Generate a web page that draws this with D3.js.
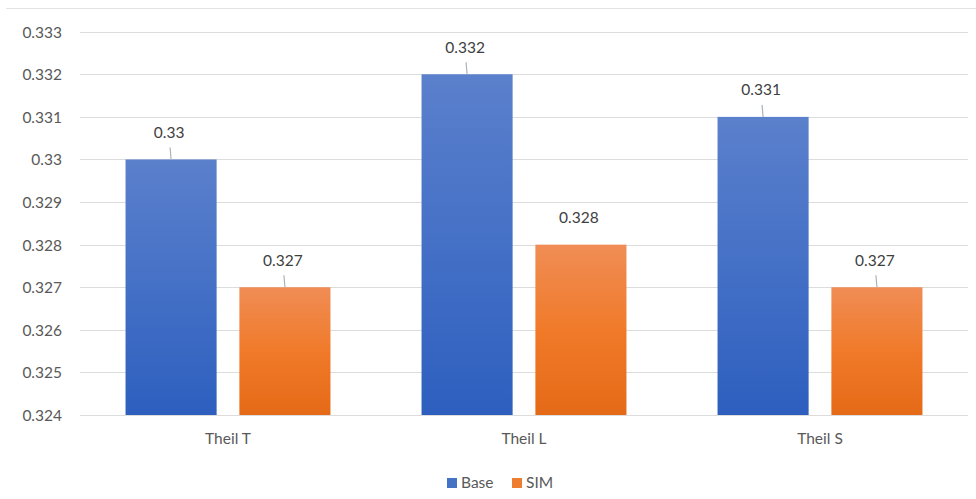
<!DOCTYPE html>
<html>
<head>
<meta charset="utf-8">
<script src="https://cdn.jsdelivr.net/npm/d3@7"></script>
<style>
  html, body { margin: 0; padding: 0; background: #fff; }
  svg { display: block; font-family: Lato, "Open Sans", sans-serif; }
</style>
</head>
<body>
<svg id="chart" width="976" height="499"></svg>
<script>
const categories = ["Theil T", "Theil L", "Theil S"];
const seriesNames = ["Base", "SIM"];
const baseValues = [0.330, 0.332, 0.331];
const simValues = [0.327, 0.328, 0.327];
const baseLabels = ["0.33", "0.332", "0.331"];
const simLabels = ["0.327", "0.328", "0.327"];
const yTicks = [0.324, 0.325, 0.326, 0.327, 0.328, 0.329, 0.330, 0.331, 0.332, 0.333];
const yTickLabels = ["0.324", "0.325", "0.326", "0.327", "0.328", "0.329", "0.33", "0.331", "0.332", "0.333"];

const svg = d3.select("#chart");
const W = 976, H = 499;
const plot = { left: 80, right: 968, top: 31.7, bottom: 415 };

// top border
svg.append("line").attr("x1", 6).attr("x2", W).attr("y1", 8.5).attr("y2", 8.5)
  .attr("stroke", "#e3e3e3").attr("stroke-width", 1);

const y = d3.scaleLinear().domain([0.324, 0.333]).range([plot.bottom, plot.top]);
const x0 = d3.scaleBand().domain(categories).range([plot.left, plot.right]).paddingInner(0).paddingOuter(0);
const x1 = d3.scaleBand().domain(seriesNames).range([0, x0.bandwidth()]).paddingInner(0.2).paddingOuter(0.4);

// gradients
const defs = svg.append("defs");
const grads = {
  Base: ["#5b80cc", "#4470c6", "#2e5fbf"],
  SIM: ["#f08d55", "#f07a2a", "#e56a17"]
};
Object.entries(grads).forEach(([k, c]) => {
  const g = defs.append("linearGradient").attr("id", "g" + k)
    .attr("x1", 0).attr("y1", 0).attr("x2", 0).attr("y2", 1);
  g.append("stop").attr("offset", "0%").attr("stop-color", c[0]);
  g.append("stop").attr("offset", "50%").attr("stop-color", c[1]);
  g.append("stop").attr("offset", "100%").attr("stop-color", c[2]);
});
const legendColors = { Base: "#4472c4", SIM: "#ed7d31" };

// gridlines
svg.append("g").selectAll("line").data(yTicks).join("line")
  .attr("x1", plot.left).attr("x2", plot.right)
  .attr("y1", d => Math.round(y(d)) + 0.5).attr("y2", d => Math.round(y(d)) + 0.5)
  .attr("stroke", "#dcdcdc").attr("stroke-width", 1.2);

// y axis labels
const yAxis = d3.axisLeft(y).tickValues(yTicks).tickSize(0).tickPadding(0)
  .tickFormat((d, i) => yTickLabels[i]);
const ya = svg.append("g").attr("transform", `translate(62,0)`).call(yAxis);
ya.select(".domain").remove();
ya.selectAll("text").attr("fill", "#595959").attr("font-size", 15.5)
  .attr("font-family", "Lato, 'Open Sans', sans-serif").attr("dy", "0.35em");

// x axis labels
const xa = svg.append("g").attr("transform", `translate(0,${plot.bottom})`)
  .call(d3.axisBottom(x0).tickSize(0).tickPadding(0));
xa.select(".domain").remove();
xa.selectAll("text").attr("fill", "#595959").attr("font-size", 15.5)
  .attr("font-family", "Lato, 'Open Sans', sans-serif").attr("dy", "29px");

// bars
const rows = categories.map((c, i) => ({
  cat: c,
  items: [
    { s: "Base", v: baseValues[i], lab: baseLabels[i] },
    { s: "SIM", v: simValues[i], lab: simLabels[i] }
  ]
}));

const groups = svg.append("g").selectAll("g").data(rows).join("g")
  .attr("transform", d => `translate(${x0(d.cat)},0)`);

groups.selectAll("rect").data(d => d.items).join("rect")
  .attr("x", d => x1(d.s))
  .attr("width", x1.bandwidth())
  .attr("y", d => y(d.v))
  .attr("height", d => y(0.324) - y(d.v))
  .attr("fill", d => `url(#g${d.s})`);

// leader lines
groups.selectAll("line.lead").data(d => d.items).join("line").attr("class", "lead")
  .attr("x1", d => x1(d.s) + x1.bandwidth() / 2 - 1)
  .attr("x2", d => x1(d.s) + x1.bandwidth() / 2)
  .attr("y1", d => y(d.v) - 12)
  .attr("y2", d => y(d.v))
  .attr("stroke", "#a9b3bd").attr("stroke-width", 1.2)
  .attr("opacity", d => d.lab === "0.328" ? 0 : 1);

// data labels
groups.selectAll("text.lab").data(d => d.items).join("text").attr("class", "lab")
  .attr("x", d => x1(d.s) + x1.bandwidth() / 2 - 2)
  .attr("y", d => y(d.v) - 27)
  .attr("dy", "0.35em")
  .attr("text-anchor", "middle")
  .attr("fill", "#404040").attr("font-size", 15.5)
  .text(d => d.lab);

// legend
const legend = svg.append("g").attr("transform", "translate(447,478)");
const legX = [0, 65];
seriesNames.forEach((s, i) => {
  const g = legend.append("g").attr("transform", `translate(${legX[i]},0)`);
  g.append("rect").attr("width", 10).attr("height", 10).attr("fill", legendColors[s]);
  g.append("text").attr("x", 14).attr("y", 5).attr("dy", "0.35em")
    .attr("fill", "#595959").attr("font-size", 15.5).text(s);
});
</script>
</body>
</html>
